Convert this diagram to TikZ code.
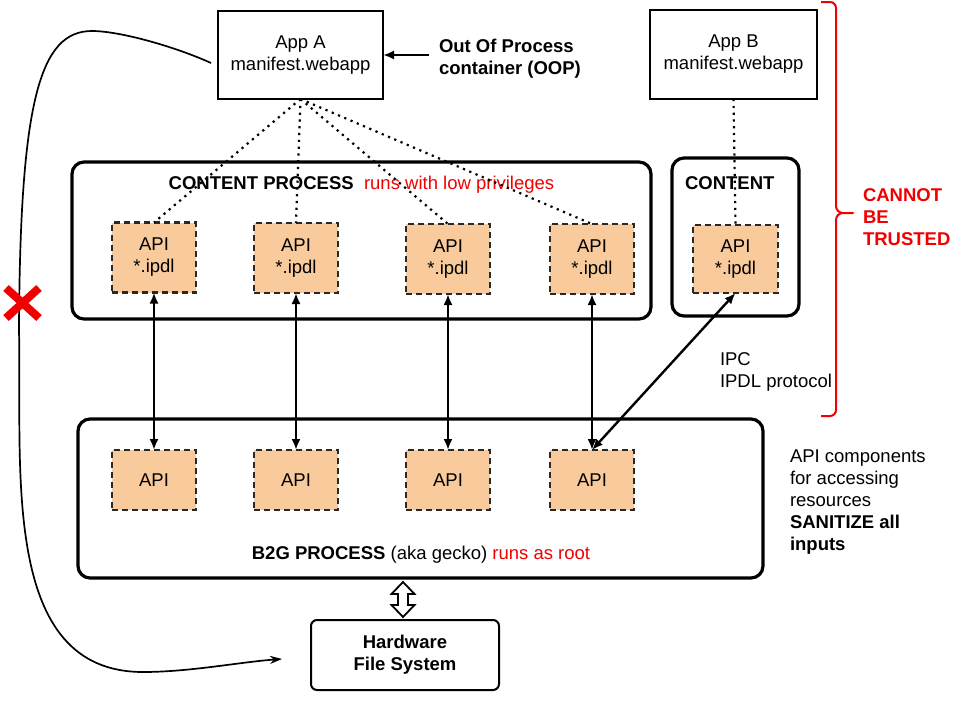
\documentclass[tikz,border=0pt]{standalone}
\usepackage{fontspec}
\setmainfont{Liberation Sans}
\usetikzlibrary{arrows.meta,calc}
\definecolor{peach}{RGB}{249,203,156}
\definecolor{xred}{RGB}{240,0,0}
\definecolor{dashgray}{RGB}{40,40,40}
\newcommand{\myfs}{\fontsize{18.5}{22}\selectfont}
\begin{document}
\begin{tikzpicture}[x=1pt,y=1pt,
  every node/.style={font=\myfs, inner sep=0pt, outer sep=0pt},
  appbox/.style={draw, line width=2pt, minimum width=165pt, minimum height=88pt, align=center},
  procbox/.style={draw, line width=3.2pt, rounded corners=12pt},
  apibox/.style={draw=dashgray, fill=peach, dash pattern=on 6pt off 4pt, line width=2.3pt, align=center, minimum width=84pt},
  link/.style={line width=2.4pt, {Latex[length=11pt,width=9pt]}-{Latex[length=11pt,width=9pt]}},
  dotline/.style={line width=2.2pt, dash pattern=on 2.2pt off 4.6pt},
  txt/.style={align=left, anchor=west}]
\useasboundingbox (0,0) rectangle (960,-720);
\fill[white] (0,0) rectangle (960,-720);

% apps
\node[appbox] (appA) at (300.5,-55) {App A\\manifest.webapp};
\node[appbox, minimum width=167pt, minimum height=89pt] (appB) at (733.5,-54.5) {App B\\manifest.webapp};
\node[txt, font=\myfs\bfseries] (oop) at (439,-58.5) {Out Of Process\\container (OOP)};
\coordinate (oopt) at ([xshift=-10pt]oop.west);
\draw[line width=2.4pt, -{Latex[length=11pt,width=9pt]}] (oopt |- appA.east) -- (appA.east);

% content process
\node[procbox, minimum width=579pt, minimum height=157pt] (cproc) at (361.5,-240.5) {};
\node (ctitle) at (361.5,-185) {\textbf{CONTENT PROCESS}\ \ \textcolor{xred}{runs with low privileges}};
\node[apibox, minimum height=70pt] (c1) at (154,-257.5) {API\\*.ipdl};
\node[apibox, minimum height=70pt] (c2) at (296,-258) {API\\*.ipdl};
\node[apibox, minimum height=70pt] (c3) at (448,-259) {API\\*.ipdl};
\node[apibox, minimum height=70pt] (c4) at (592,-259) {API\\*.ipdl};

% content (app B)
\node[procbox, minimum width=127pt, minimum height=158pt] (cont) at (735.5,-237) {};
\node[anchor=west] (ctitle2) at (685,-183) {\textbf{CONTENT}};
\node[apibox, minimum height=68pt, minimum width=85pt] (capi) at (735.5,-259) {API\\*.ipdl};

% B2G process
\node[procbox, minimum width=685pt, minimum height=159pt] (b2g) at (420.5,-498.5) {};
\node[apibox, minimum height=60pt] (b1) at (154,-480) {API};
\node[apibox, minimum height=60pt] (b2) at (296,-480) {API};
\node[apibox, minimum height=60pt] (b3) at (448,-480) {API};
\node[apibox, minimum height=60pt] (b4) at (592,-480) {API};
\node (btitle) at (421,-555) {\textbf{B2G PROCESS} (aka gecko) \textcolor{xred}{runs as root}};

% hardware
\node[draw, line width=2pt, rounded corners=6pt, minimum width=188pt, minimum height=70pt, align=center, font=\myfs\bfseries] (hw) at (405,-655) {Hardware\\File System};

% dotted links
\foreach \t in {c1,c2,c3,c4} \draw[dotline] (appA.south) -- (\t.north);
\draw[dotline] (appB.south) -- (capi.north);

% IPC links
\draw[link] (c1.south) -- (b1.north);
\draw[link] (c2.south) -- (b2.north);
\draw[link] (c3.south) -- (b3.north);
\draw[link] (c4.south) -- (b4.north);
\draw[link] (b4.north) -- (capi.south);

% hollow double arrow
\draw[line width=1.8pt, fill=white, line join=miter] ($(hw.north)+(-2,3)$) -- ++(11.5,12) -- ++(-6.5,0) -- ++(0,11) -- ++(6.5,0) -- ++(-11.5,12) -- ++(-11.5,-12) -- ++(6.5,0) -- ++(0,-11) -- ++(-6.5,0) -- cycle;

% bypass curve
\coordinate (cs) at (211,-63);
\coordinate (ce) at (282,-659);
\draw[line width=1.7pt, -{Stealth[length=12pt,width=8pt]}] (cs) .. controls (176,-47) and (120,-31) .. (92,-31) .. controls (40,-31) and (20,-100) .. (19,-330) .. controls (22,-470) and (0,-672) .. (143,-672) .. controls (190,-672) and (240,-662) .. (ce);

% red X
\draw[xred, line width=8pt] (6,-288) -- (39,-318) (6,-318) -- (39,-288);

% brace
\draw[xred, line width=2pt, line join=round] (821,-2) -- (830,-2) to[out=0,in=90] (836,-8) -- (836,-206) to[out=-90,in=180] (843,-213) -- (853,-213) -- (843,-213) to[out=180,in=90] (836,-220) -- (836,-410) to[out=-90,in=0] (830,-416) -- (821,-416);
\node[txt, font=\myfs\bfseries, text=xred] (cbt) at (863,-217) {CANNOT\\BE\\TRUSTED};

% side texts
\node[txt] (ipc) at (720,-371.5) {IPC\\IPDL protocol};
\node[txt] (rtext) at (790,-502) {API components\\for accessing\\resources\\\textbf{SANITIZE all}\\\textbf{inputs}};
\end{tikzpicture}
\end{document}
